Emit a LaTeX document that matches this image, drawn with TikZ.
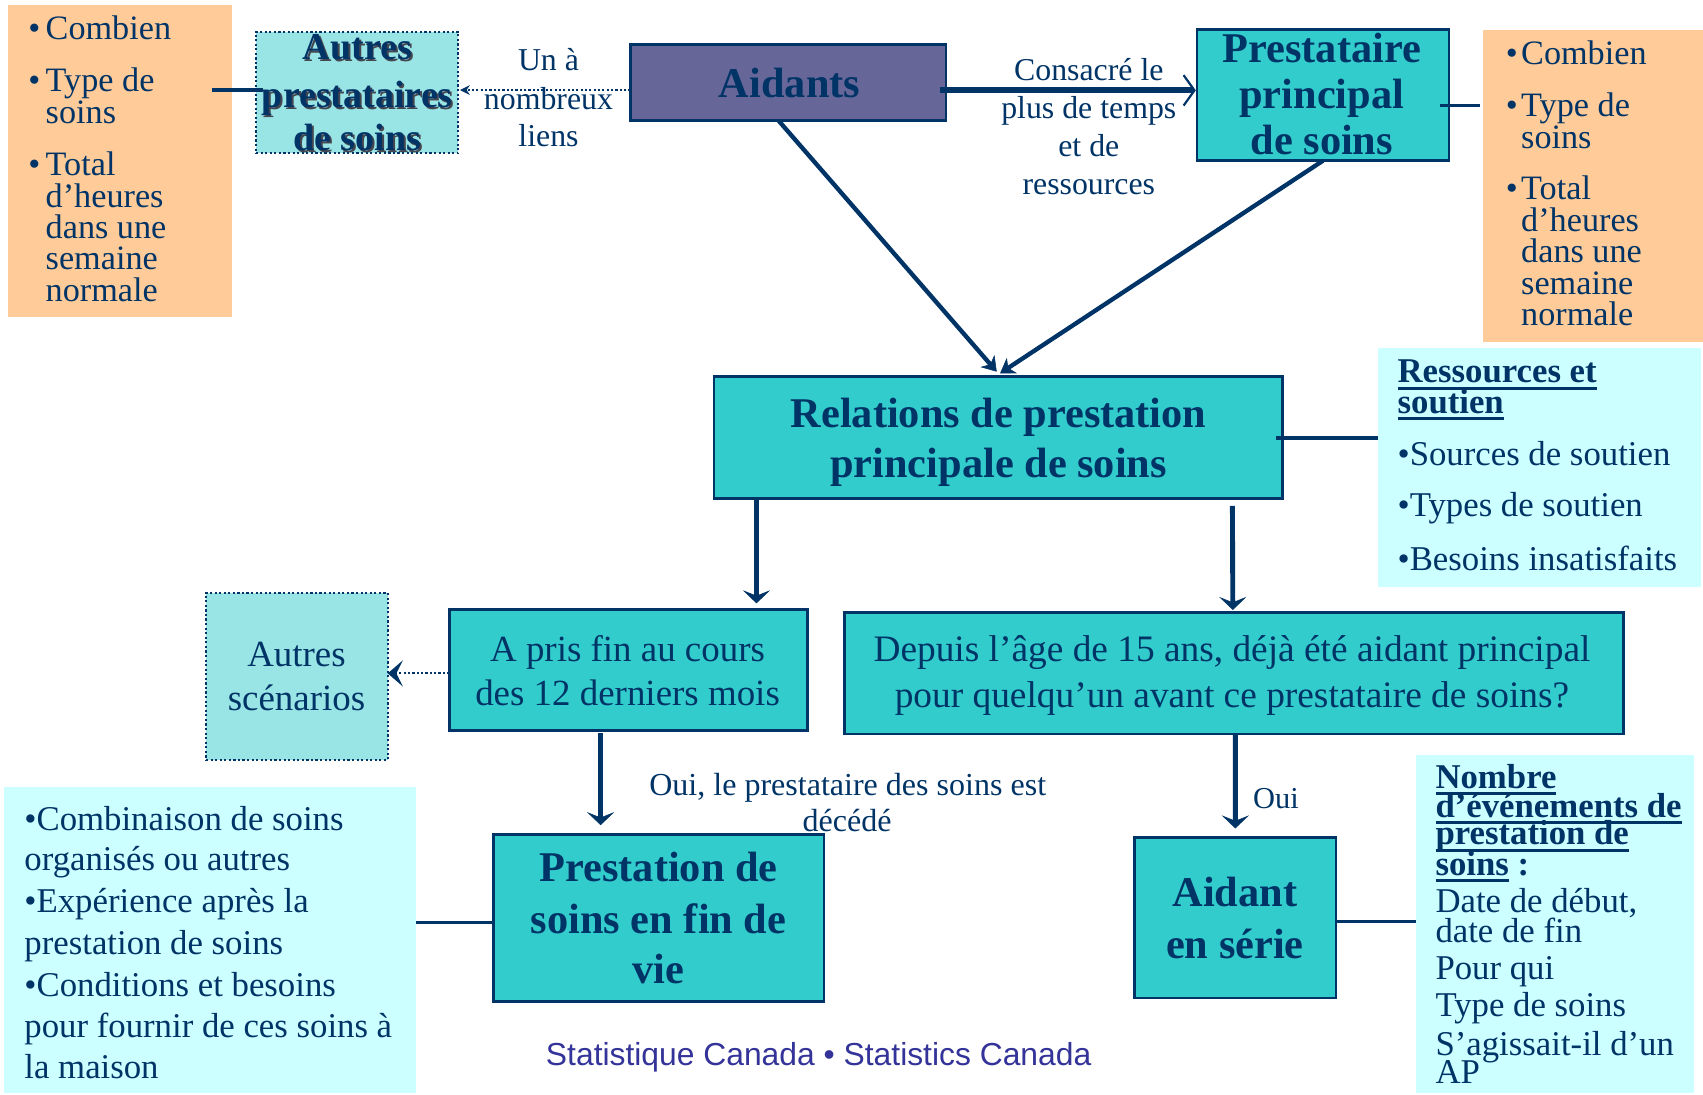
\documentclass[tikz,border=0pt]{standalone}
\usepackage{fontspec}
\setmainfont{Liberation Serif}
\newfontfamily\footfont{Liberation Sans}
\usetikzlibrary{arrows.meta,calc}
\definecolor{navy}{RGB}{0,51,102}
\definecolor{tealF}{RGB}{51,204,204}
\definecolor{ltealF}{RGB}{153,229,229}
\definecolor{cyanF}{RGB}{204,255,255}
\definecolor{orangeF}{RGB}{255,204,153}
\definecolor{purpleF}{RGB}{102,102,153}
\definecolor{footC}{RGB}{51,51,153}
\definecolor{shadowC}{RGB}{70,70,80}
\newsavebox\ulbox
\newcommand{\myul}[1]{\sbox\ulbox{#1}\rlap{\vrule height -3.6pt depth 6.4pt width \wd\ulbox}\usebox\ulbox}
\begin{document}
\begin{tikzpicture}[x=1pt,y=-1pt,
  box/.style={rectangle, inner sep=0pt, outer sep=0pt},
  obox/.style={box, fill=orangeF},
  cbox/.style={box, fill=cyanF},
  tbox/.style={box, fill=tealF, draw=navy, line width=2.5pt},
  dbox/.style={box, fill=ltealF, draw=navy, line width=2pt, dash pattern=on 2pt off 2.2pt},
  abox/.style={box, fill=purpleF, draw=navy, line width=2.5pt},
  tx/.style={text=navy, inner sep=0pt, outer sep=0pt},
  t28/.style={tx, font=\fontsize{28pt}{30pt}\selectfont},
  t29/.style={tx, font=\fontsize{29.3pt}{30pt}\selectfont},
  t295/.style={tx, font=\fontsize{29.5pt}{30pt}\selectfont},
  t315/.style={tx, font=\fontsize{31.5pt}{32pt}\selectfont},
  t32/.style={tx, font=\fontsize{32pt}{33pt}\selectfont},
  t34/.style={tx, font=\fontsize{34pt}{35pt}\selectfont},
  t344/.style={tx, font=\fontsize{34.4pt}{35pt}\selectfont},
  b32/.style={tx, font=\fontsize{32pt}{33pt}\selectfont\bfseries},
  b35/.style={tx, font=\fontsize{35pt}{36pt}\selectfont\bfseries},
  b39/.style={tx, font=\fontsize{39pt}{40pt}\selectfont\bfseries},
  shd/.style={text=shadowC},
  conn/.style={draw=navy, line width=3pt},
  dotarr/.style={draw=navy, line width=2pt, dash pattern=on 2pt off 2pt},
  varr/.style={draw=navy, line width=4.5pt, -{Stealth[length=12pt,width=25pt,inset=5pt,line width=0.5pt]}},
  diag/.style={draw=navy, line width=4pt, -{Stealth[length=13pt,width=17pt,inset=4pt,line width=0.5pt]}},
  thickarr/.style={draw=navy, line width=5.5pt, -{Straight Barb[length=10pt,width=28pt,line width=2pt]}}
]
\useasboundingbox (0,0) rectangle (1568,1007.3);

% boxes
\node[obox, minimum width=206pt, minimum height=287pt] (oL) at (110.5,148.1) {};
\node[dbox, minimum width=186.3pt, minimum height=112pt] (autP) at (328.9,85.2) {};
\node[abox, minimum width=290.5pt, minimum height=70.2pt] (aid) at (725.8,75.9) {};
\node[tbox, minimum width=232pt, minimum height=121pt] (pp) at (1218,87.5) {};
\node[obox, minimum width=202.2pt, minimum height=287pt] (oR) at (1466.9,171.1) {};
\node[tbox, minimum width=523pt, minimum height=112pt] (rel) at (919,402.8) {};
\node[cbox, minimum width=297pt, minimum height=219.5pt] (res) at (1417.5,430.5) {};
\node[tbox, minimum width=329.7pt, minimum height=111.8pt] (apf) at (578.5,616.9) {};
\node[dbox, minimum width=167.3pt, minimum height=154.1pt] (aus) at (273.3,622.8) {};
\node[tbox, minimum width=717.4pt, minimum height=111.8pt] (dep) at (1136.1,620) {};
\node[tbox, minimum width=304.5pt, minimum height=154.3pt] (pfv) at (606.4,845.2) {};
\node[cbox, minimum width=379.3pt, minimum height=281.7pt] (cyL) at (193.7,865.9) {};
\node[tbox, minimum width=185.2pt, minimum height=147.7pt] (aes) at (1137.4,844.9) {};
\node[cbox, minimum width=256pt, minimum height=311.5pt] (nom) at (1432,851) {};

% connectors
\draw[conn] ($(oL.east|-autP.west)+(-18,-2.3)$) -- ($(autP.west)+(6,-2.3)$);
\draw[dotarr, -{Stealth[length=9pt,width=9pt]}] ($(aid.west|-autP.east)+(0,-2.3)$) -- ($(autP.east)+(1.5,-2.3)$);
\draw[thickarr] ($(aid.east|-pp.west)+(-6,-4.3)$) -- ($(pp.west)+(-1,-4.3)$);
\draw[conn] ($(pp.east)+(-8,9.5)$) -- ($(oR.west|-pp.east)+(-3,9.5)$);
\draw[diag] ($(aid.south)+(-9,0)$) -- ($(rel.north)+(-1.3,-4.6)$);
\draw[diag] (pp.south) -- ($(rel.north)+(1.8,-3.1)$);
\draw[conn] ($(rel.east)+(-5.7,0.5)$) -- ($(res.west)+(0,-27.2)$);
\draw[varr] ($(rel.south west)+(39,0)$) -- ($(apf.north)+(118,-5.5)$);
\draw[varr] ($(rel.south west)+(477.2,7)$) -- ($(dep.north)+(-1,-2.5)$);
\draw[dotarr, -{Stealth[length=14pt,width=24pt,inset=6pt]}] ($(apf.west)+(0,3.1)$) -- ($(aus.east)+(0,-2.8)$);
\draw[varr] ($(apf.south)+(-25.5,2.5)$) -- ($(pfv.north)+(-53.4,-8.3)$);
\draw[conn] ($(pfv.west)+(0,4.4)$) -- ($(cyL.east)+(0,-16.3)$);
\draw[varr] ($(dep.south)+(1.3,0)$) -- ($(aes.north)+(0,-8.3)$);
\draw[conn] ($(aes.east)+(0,3.8)$) -- ($(nom.west)+(0,-2.3)$);

% left orange box text
\node[t315, anchor=base west] (oL1) at (42.1,36.8) {\llap{•\hspace{5pt}}Combien};
\node[t315, anchor=base west] (oL2) at (42.1,84.4) {\llap{•\hspace{5pt}}Type de};
\node[t315, anchor=base west] (oL3) at (42.1,113.6) {soins};
\node[t315, anchor=base west] (oL4) at (42.1,162) {\llap{•\hspace{5pt}}Total};
\node[t315, anchor=base west] (oL5) at (42.1,190.9) {d’heures};
\node[t315, anchor=base west] (oL6) at (42.1,219.5) {dans une};
\node[t315, anchor=base west] (oL7) at (42.1,248) {semaine};
\node[t315, anchor=base west] (oL8) at (42.1,277.8) {normale};

% right orange box text
\node[t315, anchor=base west] (oR1) at (1400.6,59.8) {\llap{•\hspace{3pt}}Combien};
\node[t315, anchor=base west] (oR2) at (1400.6,107.4) {\llap{•\hspace{3pt}}Type de};
\node[t315, anchor=base west] (oR3) at (1400.6,136.4) {soins};
\node[t315, anchor=base west] (oR4) at (1400.6,184) {\llap{•\hspace{3pt}}Total};
\node[t315, anchor=base west] (oR5) at (1400.6,213) {d’heures};
\node[t315, anchor=base west] (oR6) at (1400.6,242) {dans une};
\node[t315, anchor=base west] (oR7) at (1400.6,271) {semaine};
\node[t315, anchor=base west] (oR8) at (1400.6,300) {normale};

% autres prestataires (shadowed)
\node[b35, shd, anchor=base] (ap1s) at (330.8,57) {Autres};
\node[b35, shd, anchor=base] (ap2s) at (330.8,100.6) {prestataires};
\node[b35, shd, anchor=base] (ap3s) at (330.8,140.8) {de soins};
\node[b35, anchor=base] (ap1) at (329,55.2) {Autres};
\node[b35, anchor=base] (ap2) at (329,98.8) {prestataires};
\node[b35, anchor=base] (ap3) at (329,139) {de soins};

% un a nombreux liens
\node[t29, anchor=base] (un1) at (505,64.5) {Un à};
\node[t29, anchor=base] (un2) at (505,100.7) {nombreux};
\node[t29, anchor=base] (un3) at (505,135) {liens};

% Aidants
\node[b39, anchor=base] (aidT) at (727,89.6) {Aidants};

% consacre
\node[t29, anchor=base] (co1) at (1002.5,73.7) {Consacré le};
\node[t29, anchor=base] (co2) at (1002.5,109) {plus de temps};
\node[t29, anchor=base] (co3) at (1002.5,144) {et de};
\node[t29, anchor=base] (co4) at (1002.5,179) {ressources};

% prestataire principal
\node[b39, anchor=base] (pp1) at (1217,57.7) {Prestataire};
\node[b39, anchor=base] (pp2) at (1217,99.7) {principal};
\node[b39, anchor=base] (pp3) at (1217,141.8) {de soins};

% relations
\node[b39, anchor=base] (rel1) at (919.4,393.5) {Relations de prestation};
\node[b39, anchor=base] (rel2) at (919.4,439.5) {principale de soins};

% ressources
\node[b32, anchor=base west] (res1) at (1286.8,352.4) {\myul{Ressources et}};
\node[b32, anchor=base west] (res2) at (1286.8,380.6) {\myul{soutien}};
\node[t32, anchor=base west] (res3) at (1286.8,428.2) {•Sources de soutien};
\node[t32, anchor=base west] (res4) at (1286.8,475.1) {•Types de soutien};
\node[t32, anchor=base west] (res5) at (1286.8,524.9) {•Besoins insatisfaits};

% a pris fin
\node[t34, anchor=base] (apf1) at (577.8,609.3) {A pris fin au cours};
\node[t34, anchor=base] (apf2) at (577.8,649.2) {des 12 derniers mois};

% autres scenarios
\node[t34, anchor=base] (aus1) at (273,613.9) {Autres};
\node[t34, anchor=base] (aus2) at (273,654.4) {scénarios};

% depuis
\node[t344, anchor=base] (dep1) at (1134.3,609.3) {Depuis l’âge de 15 ans, déjà été aidant principal};
\node[t344, anchor=base] (dep2) at (1134.3,651.3) {pour quelqu’un avant ce prestataire de soins?};

% oui decede
\node[t295, anchor=base] (ou1) at (780.5,732) {Oui, le prestataire des soins est};
\node[t295, anchor=base] (ou2) at (780,765.8) {décédé};

% left cyan
\node[t32, anchor=base west] (cy1) at (22.5,764.3) {•Combinaison de soins};
\node[t32, anchor=base west] (cy2) at (22.5,801.7) {organisés ou autres};
\node[t32, anchor=base west] (cy3) at (22.5,840.4) {•Expérience après la};
\node[t32, anchor=base west] (cy4) at (22.5,878.5) {prestation de soins};
\node[t32, anchor=base west] (cy5) at (22.5,917.1) {•Conditions et besoins};
\node[t32, anchor=base west] (cy6) at (22.5,955.2) {pour fournir de ces soins à};
\node[t32, anchor=base west] (cy7) at (22.5,992.9) {la maison};

% prestation fin de vie
\node[b39, anchor=base] (pfv1) at (606.4,811.8) {Prestation de};
\node[b39, anchor=base] (pfv2) at (606.4,859.4) {soins en fin de};
\node[b39, anchor=base] (pfv3) at (606.4,905.4) {vie};

% oui
\node[t28, anchor=base west] (oui) at (1153.8,744.3) {Oui};

% aidant en serie
\node[b39, anchor=base] (aes1) at (1137,834.9) {Aidant};
\node[b39, anchor=base] (aes2) at (1137,882.4) {en série};

% nombre
\node[b32, anchor=base west] (nm1) at (1321.7,725.9) {\myul{Nombre}};
\node[b32, anchor=base west] (nm2) at (1321.7,752.6) {\myul{d’événements de}};
\node[b32, anchor=base west] (nm3) at (1321.7,778) {\myul{prestation de}};
\node[b32, anchor=base west] (nm4) at (1321.7,805.7) {\myul{soins} :};
\node[t32, anchor=base west] (nm5) at (1321.7,840.4) {Date de début,};
\node[t32, anchor=base west] (nm6) at (1321.7,868) {date de fin};
\node[t32, anchor=base west] (nm7) at (1321.7,901.8) {Pour qui};
\node[t32, anchor=base west] (nm8) at (1321.7,936.2) {Type de soins};
\node[t32, anchor=base west] (nm9) at (1321.7,971.4) {S’agissait-il d’un};
\node[t32, anchor=base west] (nm10) at (1321.7,997.5) {AP};

% footer
\node[inner sep=0pt, text=footC, font=\footfont\fontsize{29.3pt}{30pt}\selectfont, anchor=base west] (foot) at (502.5,980.7) {Statistique Canada • Statistics Canada};
\end{tikzpicture}
\end{document}
